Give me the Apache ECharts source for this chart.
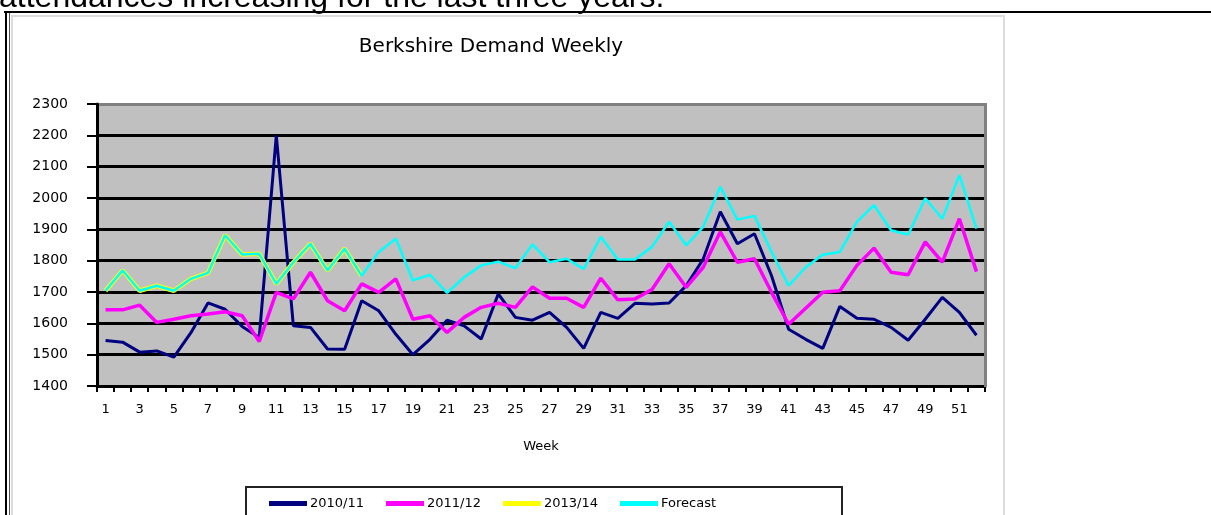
<!DOCTYPE html>
<html>
<head>
<meta charset="utf-8">
<script src="https://cdn.jsdelivr.net/npm/echarts@6/dist/echarts.min.js"></script>
<style>
  html, body { margin: 0; padding: 0; background: #fff; }
  #chart { width: 1211px; height: 515px; }
</style>
</head>
<body>
<div id="chart"></div>
<script>
// week numbers on the x axis
const weeks = ['1','2','3','4','5','6','7','8','9','10','11','12','13','14','15','16','17','18','19','20',
  '21','22','23','24','25','26','27','28','29','30','31','32','33','34','35','36','37','38','39','40',
  '41','42','43','44','45','46','47','48','49','50','51','52'];

const demand1011 = [1545,1540,1508,1512,1492,1570,1665,1645,1590,1555,2200,1592,1587,1518,1517,1672,1640,1565,1500,1549,
  1610,1592,1550,1694,1619,1610,1635,1587,1520,1635,1616,1664,1662,1665,1720,1805,1956,1854,1886,1752,
  1581,1549,1520,1654,1616,1613,1587,1546,1613,1683,1635,1562];

const demand1112 = [1643,1643,1658,1603,1613,1624,1630,1637,1624,1542,1699,1678,1763,1672,1640,1726,1699,1742,1613,1624,
  1571,1619,1651,1664,1651,1716,1680,1680,1651,1744,1675,1678,1708,1790,1715,1779,1892,1795,1806,1699,
  1597,1648,1699,1704,1785,1840,1763,1755,1860,1795,1934,1765];

// 2013/14 only has the first 16 weeks
const demand1314 = [1704,1769,1704,1720,1704,1742,1761,1881,1820,1822,1726,1795,1854,1769,1838,1752];

const forecast = [1704,1769,1704,1720,1704,1742,1761,1881,1820,1822,1726,1795,1854,1769,1838,1752,1828,1870,1737,1755,
  1697,1747,1785,1797,1776,1852,1795,1806,1774,1876,1804,1804,1844,1924,1849,1908,2036,1931,1943,1828,
  1720,1779,1819,1828,1924,1977,1897,1883,1999,1934,2073,1902];

const yMin = 1400;
const yMax = 2300;
const yStep = 100;

let chart = echarts.init(document.getElementById('chart'));
let option = {
  animation: false,
  backgroundColor: '#fff',
  title: {
    text: 'Berkshire Demand Weekly',
    left: 486,
    top: 32,
    textAlign: 'center',
    textStyle: { fontFamily: 'DejaVu Sans', fontSize: 20, fontWeight: 'normal', color: '#000' }
  },
  graphic: [
    // bit of the document text above the chart
    {
      type: 'text', left: -1, top: -18, z: 10,
      style: { text: 'attendances increasing for the last three years.', font: '32px "Liberation Sans"', fill: '#000' }
    },
    // document frame lines
    { type: 'rect', shape: { x: 4, y: 11, width: 1210, height: 2 }, style: { fill: '#000' }, z: 10 },
    { type: 'rect', shape: { x: 5, y: 11, width: 2, height: 510 }, style: { fill: '#000' }, z: 10 },
    { type: 'rect', shape: { x: 9, y: 13, width: 1, height: 510 }, style: { fill: '#555' }, z: 10 },
    // chart box
    {
      type: 'rect', shape: { x: 12, y: 16, width: 992, height: 510 },
      style: { fill: 'none', stroke: '#dcdcdc', lineWidth: 2 }, z: 1
    },
    // legend box
    {
      type: 'rect', shape: { x: 246, y: 487, width: 596, height: 40 },
      style: { fill: '#fff', stroke: '#222', lineWidth: 2 }, z: 1
    },
    // right edge of the plot area is a grey border in the original
    { type: 'rect', shape: { x: 984, y: 103, width: 3, height: 284 }, style: { fill: '#808080' }, z: 3 }
  ],
  legend: {
    left: 264,
    top: 492,
    itemWidth: 38,
    itemHeight: 5,
    itemGap: 22,
    icon: 'rect',
    textStyle: { fontFamily: 'DejaVu Sans', fontSize: 13, color: '#000', padding: [0, 0, 0, -2] },
    data: ['2010/11', '2011/12', '2013/14', 'Forecast'],
    z: 5
  },
  grid: {
    left: 97,
    right: 226,
    top: 104,
    bottom: 129,
    show: true,
    backgroundColor: '#c0c0c0',
    borderWidth: 0
  },
  xAxis: {
    type: 'category',
    data: weeks,
    boundaryGap: true,
    name: 'Week',
    nameLocation: 'middle',
    nameGap: 54,
    nameTextStyle: { fontFamily: 'DejaVu Sans', fontSize: 13, color: '#000' },
    axisLine: { lineStyle: { color: '#000', width: 3 } },
    axisTick: { show: true, interval: 0, length: 6, lineStyle: { color: '#000', width: 2 } },
    axisLabel: { interval: 1, margin: 17, fontFamily: 'DejaVu Sans', fontSize: 13, color: '#000' },
    splitLine: { show: false }
  },
  yAxis: {
    type: 'value',
    min: yMin,
    max: yMax,
    interval: yStep,
    axisLine: { show: true, lineStyle: { color: '#000', width: 3 } },
    axisTick: { show: true, length: 10, lineStyle: { color: '#000', width: 2 } },
    axisLabel: {
      margin: 29, fontFamily: 'DejaVu Sans', fontSize: 14, color: '#000',
      formatter: function (v) { return String(v); }
    },
    splitLine: {
      show: true,
      lineStyle: { color: ['#000','#000','#000','#000','#000','#000','#000','#000','#000','#808080'], width: 3 }
    }
  },
  series: [
    {
      name: '2010/11', type: 'line', data: demand1011, showSymbol: false,
      itemStyle: { color: '#000080' }, lineStyle: { color: '#000080', width: 3 }, z: 2
    },
    {
      name: '2011/12', type: 'line', data: demand1112, showSymbol: false,
      itemStyle: { color: '#ff00ff' }, lineStyle: { color: '#ff00ff', width: 3.5 }, z: 3
    },
    {
      name: '2013/14', type: 'line', data: demand1314, showSymbol: false,
      itemStyle: { color: '#ffff00' }, lineStyle: { color: '#ffff00', width: 4.5 }, z: 4
    },
    {
      name: 'Forecast', type: 'line', data: forecast, showSymbol: false,
      itemStyle: { color: '#00ffff' }, lineStyle: { color: '#00ffff', width: 2.5 }, z: 5
    }
  ]
};
option && chart.setOption(option);
</script>
</body>
</html>
